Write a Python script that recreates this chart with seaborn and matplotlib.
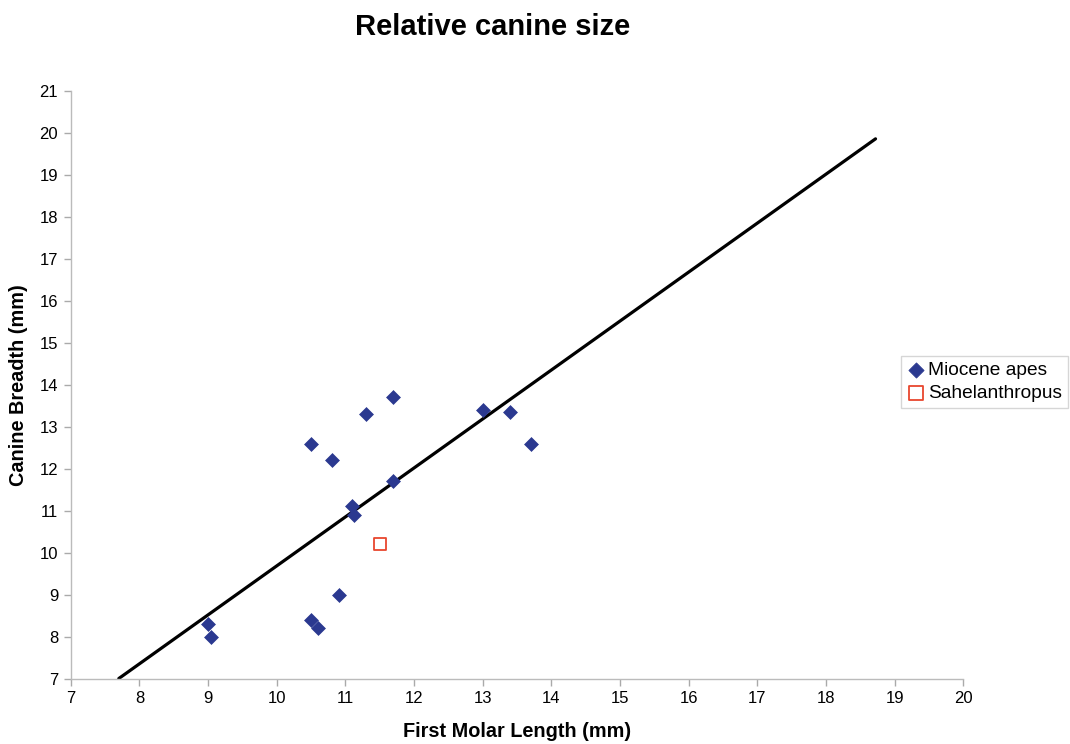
import matplotlib
matplotlib.use("Agg")
import matplotlib.pyplot as plt
import seaborn as sns
import pandas as pd
import numpy as np

# Data
miocene_molar = [9.0, 9.05, 10.5, 10.6, 10.9, 10.5, 10.8, 11.1, 11.12, 11.3, 11.7, 11.7, 13.0, 13.4, 13.7]
miocene_canine = [8.3, 8.0, 8.4, 8.2, 9.0, 12.6, 12.2, 11.1, 10.9, 13.3, 13.7, 11.7, 13.4, 13.35, 12.6]
sahel_molar = [11.5]
sahel_canine = [10.2]
trend_x = [7.7, 18.72]
trend_y = [7.0, 19.86]
x_ticks = list(range(7, 21))
y_ticks = list(range(7, 22))

sns.set_theme(style="white")
plt.rcParams['font.family'] = ['Liberation Sans', 'DejaVu Sans']
plt.rcParams['text.color'] = 'black'
plt.rcParams['axes.labelcolor'] = 'black'

fig = plt.figure(figsize=(10.7, 7.44), dpi=100)
ax = fig.add_axes([0.0661, 0.088, 0.8343, 0.7897])

df_m = pd.DataFrame({"x": miocene_molar, "y": miocene_canine})
df_s = pd.DataFrame({"x": sahel_molar, "y": sahel_canine})
df_t = pd.DataFrame({"x": trend_x, "y": trend_y})

navy = "#2B3990"
red = "#E8472E"

sns.lineplot(data=df_t, x="x", y="y", ax=ax, color="black", linewidth=2.3, legend=False, zorder=2)
sns.scatterplot(data=df_m, x="x", y="y", ax=ax, marker="D", s=50, color=navy,
                edgecolor=navy, linewidth=0.5, label="Miocene apes", zorder=3)
sns.scatterplot(data=df_s, x="x", y="y", ax=ax, marker="s", s=80, facecolors="none",
                edgecolors=red, linewidth=1.3, label="Sahelanthropus", zorder=3)

ax.set_xlim(7, 20)
ax.set_ylim(7, 21)
ax.set_xticks(x_ticks)
ax.set_yticks(y_ticks)
ax.tick_params(axis="both", which="major", direction="out", length=5, width=1,
               color="#AAAAAA", labelsize=12, labelcolor="black", pad=4,
               bottom=True, left=True)
for side in ["top", "right"]:
    ax.spines[side].set_visible(False)
for side in ["left", "bottom"]:
    ax.spines[side].set_color("#BBBBBB")
    ax.spines[side].set_linewidth(1)

ax.set_xlabel("First Molar Length (mm)", fontsize=14.3, fontweight="bold", va="baseline")
ax.xaxis.set_label_coords(0.5, -0.099)
ax.set_ylabel("Canine Breadth (mm)", fontsize=14.3, fontweight="bold", va="center")
ax.yaxis.set_label_coords(-0.058, 0.5)

fig.text(0.4607, 0.953, "Relative canine size", ha="center", va="baseline",
         fontsize=21, fontweight="bold")

leg = ax.legend(loc="upper left", bbox_to_anchor=(0.842, 0.5215),
                bbox_transform=fig.transFigure, frameon=True, fancybox=False,
                fontsize=13.8, handletextpad=0.1, handlelength=1.0,
                borderpad=0.3, labelspacing=0.3, borderaxespad=0, markerscale=1.1)
leg.get_frame().set_edgecolor("#CCCCCC")
leg.get_frame().set_linewidth(1)

fig.savefig("out.png", dpi=100)
